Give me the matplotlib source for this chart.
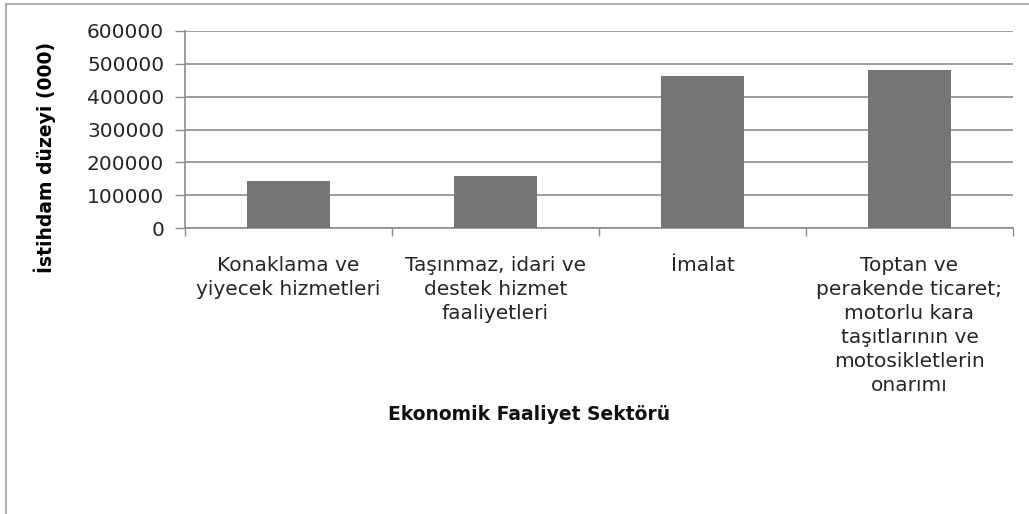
import numpy as np
import matplotlib.pyplot as plt
from matplotlib.lines import Line2D

# Sector labels and employment level (thousands)
sectors = [
    "Konaklama ve\nyiyecek hizmetleri",
    "Taşınmaz, idari ve\ndestek hizmet\nfaaliyetleri",
    "İmalat",
    "Toptan ve\nperakende ticaret;\nmotorlu kara\ntaşıtlarının ve\nmotosikletlerin\nonarımı",
]
employment = [144000, 157000, 463000, 480000]
y_ticks = [0, 100000, 200000, 300000, 400000, 500000, 600000]

plt.rcParams['font.family'] = ['DejaVu Sans']

fig = plt.figure(figsize=(10.29, 5.14), dpi=100)
ax = fig.add_axes([185 / 1029, 1 - 228 / 514, 828 / 1029, 197 / 514])

x = np.arange(len(sectors))
ax.bar(x, employment, width=0.4, color='#757575', zorder=3)

ax.set_xlim(-0.5, len(sectors) - 0.5)
ax.set_ylim(0, 600000)
ax.set_yticks(y_ticks)
ax.set_yticklabels([str(v) for v in y_ticks], fontsize=14.5, color='#262626')
ax.yaxis.grid(True, color='#8c8c8c', linewidth=1.2, zorder=0)

ax.set_xticks(x)
ax.set_xticklabels(sectors, fontsize=14.5, color='#262626', linespacing=1.33,
                   va='top')
ax.tick_params(axis='x', which='major', length=0, pad=20)
ax.set_xticks(np.arange(len(sectors) + 1) - 0.5, minor=True)
ax.tick_params(axis='x', which='minor', length=6, color='#8c8c8c', width=1)
ax.tick_params(axis='y', length=7, color='#8c8c8c', width=1, pad=8)

for side in ['top', 'right']:
    ax.spines[side].set_visible(False)
for side in ['left', 'bottom']:
    ax.spines[side].set_color('#8c8c8c')
    ax.spines[side].set_linewidth(1.2)

ax.set_ylabel("İstihdam düzeyi (000)", fontsize=13.5, fontweight='bold')
ax.yaxis.set_label_coords(-0.156, 0.36)
fig.text(529 / 1029, 1 - 414 / 514, "Ekonomik Faaliyet Sektörü",
         fontsize=13.5, fontweight='bold', ha='center', va='center',
         color='#111111')

# outer chart border (cropped at right and bottom)
fig.add_artist(Line2D([6 / 1029, 6 / 1029], [0, 1 - 4 / 514],
                      transform=fig.transFigure, color='#a0a0a0', lw=1.2))
fig.add_artist(Line2D([6 / 1029, 1], [1 - 4 / 514, 1 - 4 / 514],
                      transform=fig.transFigure, color='#a0a0a0', lw=1.2))

fig.savefig('out.png', dpi=100)
